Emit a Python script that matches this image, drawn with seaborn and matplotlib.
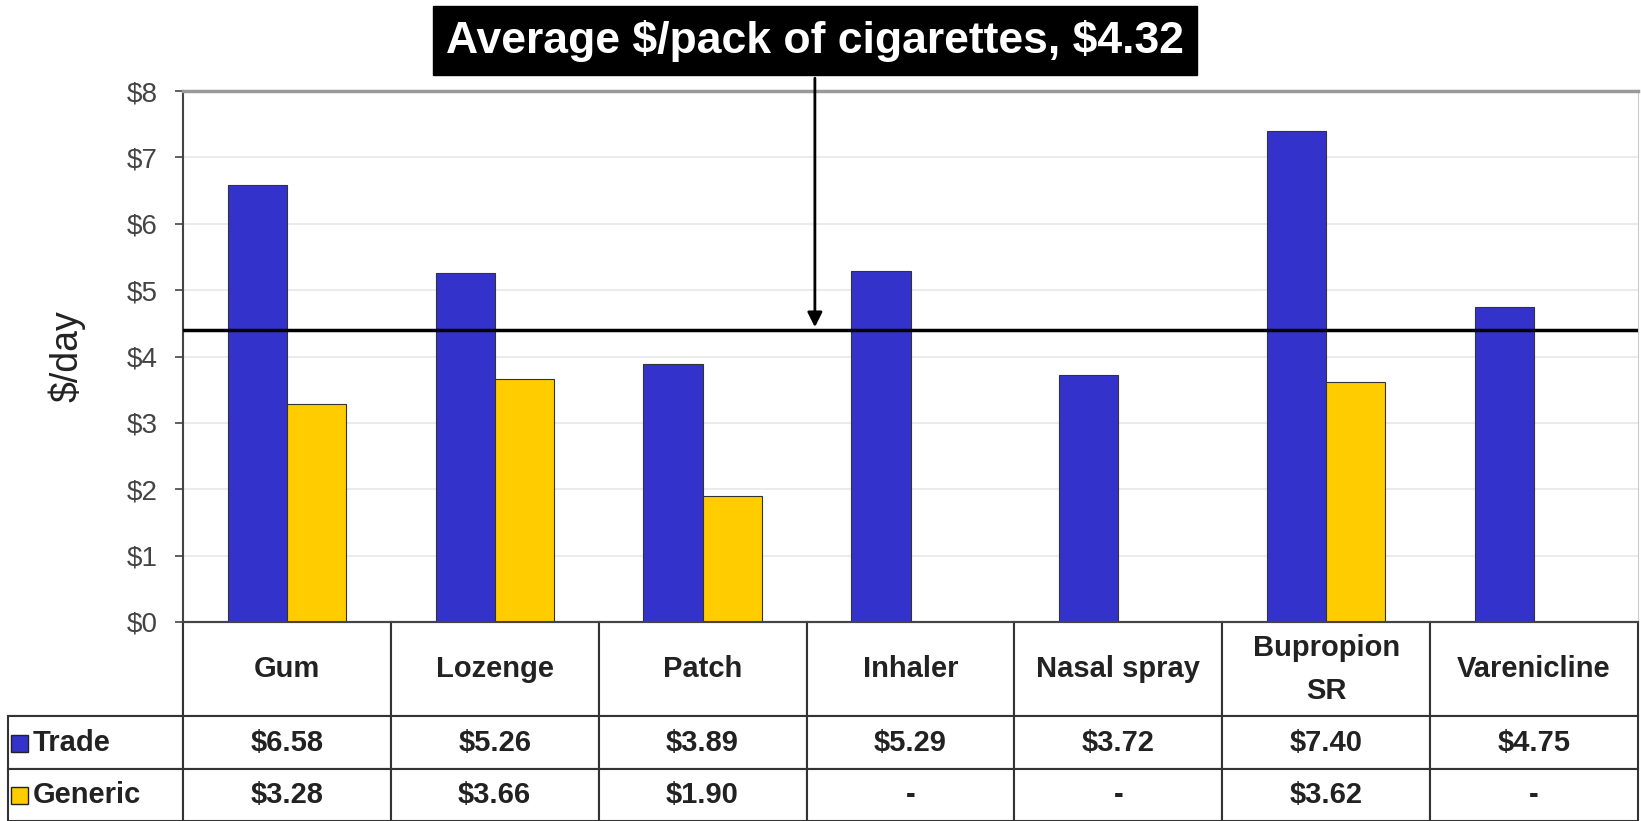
import numpy as np
import pandas as pd
import matplotlib
matplotlib.use('Agg')
import matplotlib.pyplot as plt
import seaborn as sns
from matplotlib.table import Table
from matplotlib.patches import Rectangle

sns.set_style('white')
plt.rcParams['font.family'] = ['Liberation Sans', 'DejaVu Sans']

# data
categories = ['Gum', 'Lozenge', 'Patch', 'Inhaler', 'Nasal spray', 'Bupropion\nSR', 'Varenicline']
trade = [6.58, 5.26, 3.89, 5.29, 3.72, 7.40, 4.75]
generic = [3.28, 3.66, 1.90, np.nan, np.nan, 3.62, np.nan]
series_names = ['Trade', 'Generic']
avg_pack = 4.32
avg_line_y = 4.4  # where the line sits in the picture
title_text = 'Average \\$/pack of cigarettes, \\$4.32'

blue = '#3333CC'
yellow = '#FFCC00'

df = pd.DataFrame({
    'category': categories * 2,
    'series': ['Trade'] * len(categories) + ['Generic'] * len(categories),
    'value': trade + generic,
})

W, H = 1641, 821
fig = plt.figure(figsize=(W / 100, H / 100), dpi=100)
ax = fig.add_axes([183 / W, 1 - 622 / H, 1455 / W, 531 / H])

sns.barplot(data=df, x='category', y='value', hue='series', hue_order=series_names,
            order=categories, palette=[blue, yellow], width=0.57, errorbar=None,
            saturation=1, edgecolor='#333333', linewidth=0.8, legend=False, ax=ax)

ax.set_xlim(-0.5, len(categories) - 0.5)
ax.set_ylim(0, 8)
ax.set_yticks(range(0, 9))
ax.set_yticklabels(['$%d' % v for v in range(0, 9)], fontsize=20, color='#444444')
ax.set_xticks([])
ax.set_xlabel('')
ax.set_ylabel('$/day', fontsize=27, color='#222222', labelpad=30)
ax.tick_params(axis='y', direction='out', length=6, width=1.2, color='#444444', left=True, pad=12)

ax.yaxis.grid(True, color='#e8e8e8', lw=1.2)
ax.set_axisbelow(True)
ax.spines['top'].set_color('#999999')
ax.spines['top'].set_linewidth(2.5)
ax.spines['right'].set_color('#cccccc')
ax.spines['left'].set_color('#444444')
ax.spines['left'].set_linewidth(1.5)
ax.spines['bottom'].set_color('#444444')
ax.spines['bottom'].set_linewidth(1.5)

# average price line and label
ax.axhline(avg_line_y, color='black', lw=2.5, zorder=5)
ax.annotate(title_text, xy=(2.54, avg_line_y), xytext=(2.54, 8.76),
            textcoords='data', ha='center', va='center', fontsize=32,
            fontweight='bold', color='white', annotation_clip=False,
            bbox=dict(boxstyle='square,pad=0.3', fc='black', ec='black'),
            arrowprops=dict(arrowstyle='-|>', color='black', lw=2, mutation_scale=22))

# table under the chart
tbl = Table(ax, bbox=[-175 / 1455, -199 / 531, 1630 / 1455, 199 / 531])
col_w = [175] + [208] * len(categories)
row_h = [94, 52, 52]
rows = [[''] + categories,
        ['Trade'] + ['$%.2f' % v for v in trade],
        ['Generic'] + ['-' if np.isnan(v) else '$%.2f' % v for v in generic]]
for r, row in enumerate(rows):
    for c, txt in enumerate(row):
        loc = 'left' if c == 0 else 'center'
        cell = tbl.add_cell(r, c, width=col_w[c], height=row_h[r], text=txt, loc=loc,
                            edgecolor='#333333', facecolor='white')
        cell.set_linewidth(1.5)
        t = cell.get_text()
        t.set_fontsize(21)
        t.set_fontweight('bold')
        t.set_color('#222222')
        t.set_linespacing(1.7)
        if c == 0:
            cell.PAD = 0.14
tbl[(0, 0)].visible_edges = 'BR'
tbl.auto_set_font_size(False)
ax.add_table(tbl)

# legend keys inside the table
for y_top, col in [(735, blue), (787, yellow)]:
    fig.patches.append(Rectangle((10.5 / W, 1 - (y_top + 17) / H), 17 / W, 17 / H,
                                 transform=fig.transFigure, fc=col, ec='#222222', lw=1))

fig.savefig('out.png', dpi=100)
